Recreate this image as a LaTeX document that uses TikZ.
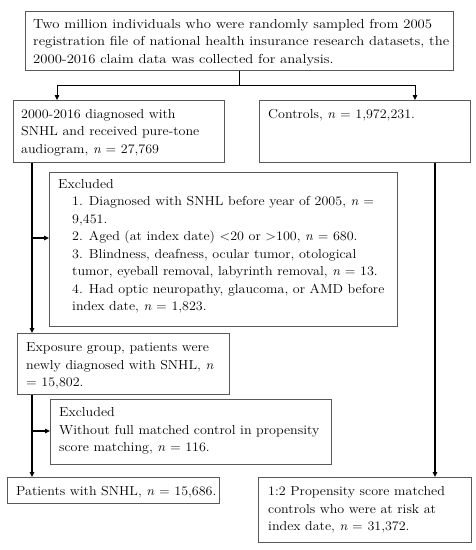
\documentclass[tikz,border=0pt]{standalone}
\usepackage{fontspec}
\setmainfont{Latin Modern Roman}[FakeStretch=1.08]
\newfontfamily\widerfont{Latin Modern Roman}[FakeStretch=1.13]
\usetikzlibrary{arrows.meta}
\newcommand{\nn}{\textit{n}}
\begin{document}
\begin{tikzpicture}[x=1pt,y=-1pt,
  box/.style={draw=black!65, line width=0.7pt, anchor=north west, inner sep=0pt, minimum width=#1},
  txt/.style={anchor=north west, align=left, inner sep=0pt, font=\fontsize{13}{17.5}\selectfont},
  thinline/.style={line width=0.8pt},
  trunk/.style={line width=1.3pt},
  arr/.style={-{Triangle[length=5pt,width=4.5pt]}}
]
\useasboundingbox (0,0) rectangle (476,550);
% boxes
\node[box=428pt, minimum height=59pt] (b1) at (25,11) {};
\node[box=211pt, minimum height=62pt] (b2) at (13,100) {};
\node[box=211pt, minimum height=62pt] (b3) at (259,100) {};
\node[box=348pt, minimum height=154pt] (e1) at (49,172) {};
\node[box=212pt, minimum height=61pt] (b4) at (17,333) {};
\node[box=281pt, minimum height=65pt] (e2) at (50,399) {};
\node[box=212pt, minimum height=26pt] (b5) at (7,477) {};
\node[box=213pt, minimum height=65pt] (b6) at (258,477) {};
% texts
\node[txt, font=\widerfont\fontsize{13}{17.5}\selectfont] (t1) at (33,16) {\strut Two million individuals who were randomly sampled from 2005\\registration file of national health insurance research datasets, the\\2000-2016 claim data was collected for analysis.};
\node[txt] (t2) at (21,106) {\strut 2000-2016 diagnosed with\\SNHL and received pure-tone\\audiogram, \nn{} = 27,769};
\node[txt] (t3) at (268,106) {\strut Controls, \nn{} = 1,972,231.};
\node[txt] (t4) at (58,176) {\strut Excluded};
\node[txt] (t5) at (72,193.5) {\strut 1. Diagnosed with SNHL before year of 2005, \nn{} =\\9,451.\\2. Aged (at index date) <20 or >100, \nn{} = 680.\\3. Blindness, deafness, ocular tumor, otological\\tumor, eyeball removal, labyrinth removal, \nn{} = 13.\\4. Had optic neuropathy, glaucoma, or AMD before\\index date, \nn{} = 1,823.};
\node[txt] (t6) at (26,339.25) {\strut Exposure group, patients were\\newly diagnosed with SNHL, \nn\\= 15,802.};
\node[txt] (t7) at (59,404.25) {\strut Excluded\\Without full matched control in propensity\\score matching, \nn{} = 116.};
\node[txt] (t8) at (16,483.25) {\strut Patients with SNHL, \nn{} = 15,686.};
\node[txt] (t9) at (268,483.25) {\strut 1:2 Propensity score matched\\controls who were at risk at\\index date, \nn{} = 31,372.};
% connectors
\coordinate (j1) at (57,85);
\coordinate (j2) at (415,85);
\coordinate (ja) at (32,238);
\coordinate (jb) at (32,431);
\coordinate (jc) at (435,300);
\draw[thinline] (b1.south) -- (b1.south |- j1);
\draw[thinline] (j1) -- (j2);
\draw[thinline, arr] (j1) -- (j1 |- b2.north);
\draw[thinline, arr] (j2) -- (j2 |- b3.north);
\draw[trunk, arr] (ja |- b2.south) -- (ja |- b4.north);
\draw[trunk, arr] (ja) -- (ja -| e1.west);
\draw[trunk, arr] (jb |- b4.south) -- (jb |- b5.north);
\draw[trunk, arr] (jb) -- (jb -| e2.west);
\draw[trunk, arr] (jc |- b3.south) -- (jc |- b6.north);
\end{tikzpicture}
\end{document}
